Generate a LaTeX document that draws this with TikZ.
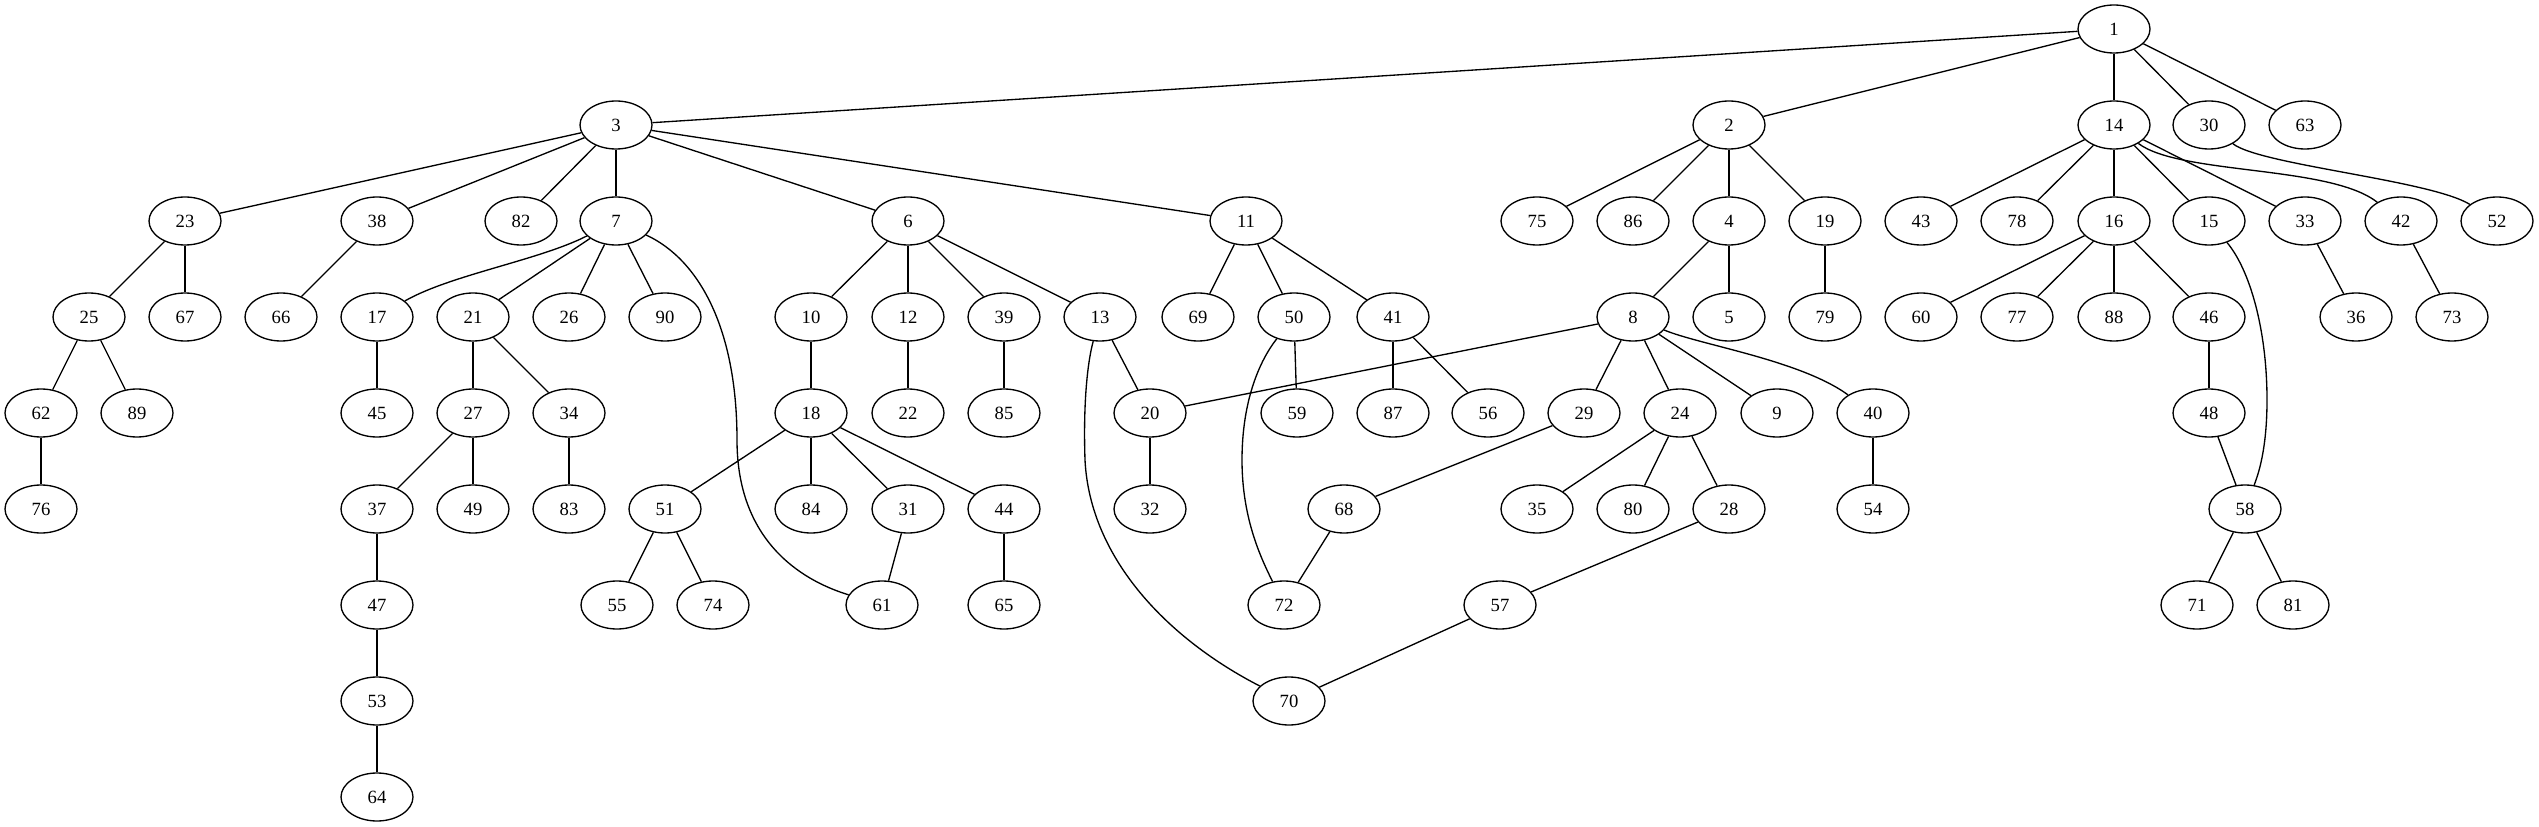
\documentclass[tikz,border=0pt]{standalone}
\usepackage{fontspec}
\setmainfont{Liberation Serif}
\usetikzlibrary{shapes.geometric}
\begin{document}
\begin{tikzpicture}[x=0.75pt,y=-0.75pt,
  nd/.style={ellipse, draw, line width=1pt, minimum width=54pt, minimum height=36pt, inner sep=0pt, font=\fontsize{14}{16}\selectfont},
  edge/.style={line width=1pt}]
\useasboundingbox (0,0) rectangle (2539,827);
\foreach \n/\x/\y in {
1/2114/29,
3/616/125, 2/1729/125, 14/2114/125, 30/2209/125, 63/2305/125,
23/185/221, 38/377/221, 82/521/221, 7/616/221, 6/908/221, 11/1246/221, 75/1537/221, 86/1633/221, 4/1729/221, 19/1825/221, 43/1921/221, 78/2017/221, 16/2114/221, 15/2209/221, 33/2305/221, 42/2401/221, 52/2497/221,
25/89/317, 67/185/317, 66/281/317, 17/377/317, 21/473/317, 26/569/317, 90/665/317, 10/811/317, 12/908/317, 39/1004/317, 13/1100/317, 69/1198/317, 50/1294/317, 41/1393/317, 8/1633/317, 5/1729/317, 79/1825/317, 60/1921/317, 77/2017/317, 88/2114/317, 46/2209/317, 36/2356/317, 73/2452/317,
62/41/413, 89/137/413, 45/377/413, 27/473/413, 34/569/413, 18/811/413, 22/908/413, 85/1004/413, 20/1150/413, 59/1297/413, 87/1393/413, 56/1488/413, 29/1584/413, 24/1680/413, 9/1777/413, 40/1873/413, 48/2209/413,
76/41/509, 37/377/509, 49/473/509, 83/569/509, 51/665/509, 84/811/509, 31/908/509, 44/1004/509, 32/1150/509, 68/1344/509, 35/1537/509, 80/1633/509, 28/1729/509, 54/1873/509, 58/2245/509,
47/377/605, 55/617/605, 74/713/605, 61/882/605, 65/1004/605, 72/1284/605, 57/1500/605, 71/2197/605, 81/2293/605,
53/377/701, 70/1289/701,
64/377/797}
  \node[nd] (n\n) at (\x,\y) {\n};
\foreach \a/\b in {
1/3, 1/2, 1/14, 1/30, 1/63,
3/23, 3/38, 3/82, 3/7, 3/6, 3/11,
2/75, 2/86, 2/4, 2/19,
14/43, 14/78, 14/16, 14/15, 14/33,
23/25, 23/67, 38/66,
7/21, 7/26, 7/90,
6/10, 6/12, 6/39, 6/13,
11/69, 11/50, 11/41,
4/8, 4/5, 19/79,
16/60, 16/77, 16/88, 16/46,
33/36, 42/73,
25/62, 25/89, 17/45, 21/27, 21/34,
10/18, 12/22, 39/85, 13/20,
50/59, 41/87, 41/56,
8/20, 8/29, 8/24, 8/9,
46/48, 62/76, 27/37, 27/49, 34/83,
18/51, 18/84, 18/31, 18/44,
20/32, 29/68, 24/35, 24/80, 24/28, 40/54, 48/58,
37/47, 51/55, 51/74, 31/61, 44/65, 68/72, 28/57,
58/71, 58/81, 47/53, 57/70, 53/64}
  \draw[edge] (n\a) -- (n\b);
% curved edges
\draw[edge] (n30) .. controls (2260,165) and (2430,180) .. (n52);
\draw[edge] (n14) .. controls (2180,175) and (2330,165) .. (n42);
\draw[edge] (n7) .. controls (540,260) and (450,275) .. (n17);
\draw[edge] (n8) .. controls (1700,345) and (1800,360) .. (n40);
\draw[edge] (n7) .. controls (700,260) and (737,330) .. (737,440) .. controls (737,540) and (800,580) .. (n61);
\draw[edge] (n13) .. controls (1088,360) and (1083,400) .. (1085,460) .. controls (1090,560) and (1170,640) .. (n70);
\draw[edge] (n50) .. controls (1260,360) and (1242,400) .. (1242,460) .. controls (1242,520) and (1262,560) .. (n72);
\draw[edge] (n15) .. controls (2250,270) and (2267,330) .. (2267,400) .. controls (2267,450) and (2258,475) .. (n58);
\end{tikzpicture}
\end{document}
